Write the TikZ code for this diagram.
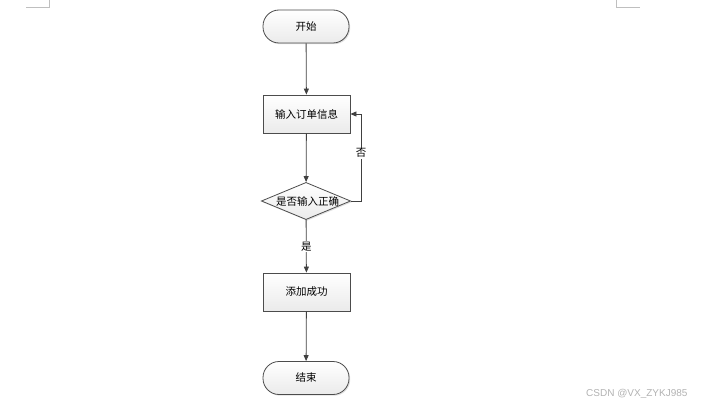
\documentclass[tikz,border=0pt]{standalone}
\usepackage{fontspec}
\setmainfont{Noto Sans CJK SC}
\newfontfamily\wmfont{Liberation Sans}
\usetikzlibrary{shapes.geometric,arrows.meta,shadows}
\begin{document}
\begin{tikzpicture}[x=1pt,y=-1pt,
  base/.style={draw=black!70,line width=0.8pt,top color=white,bottom color=black!8,
    drop shadow={shadow xshift=1.2pt,shadow yshift=-1.2pt,fill=black!25},
    font=\fontsize{10.5pt}{12pt}\selectfont,inner sep=0pt},
  term/.style={base,rounded corners=16pt,minimum width=86pt,minimum height=33pt},
  proc/.style={base,minimum width=87pt,minimum height=38pt},
  dec/.style={base,diamond,aspect=2.4,minimum width=86pt,minimum height=36pt,inner sep=0pt},
  conn/.style={draw=black!75,line width=0.8pt,-{Triangle[length=6pt,width=5pt]}},
  lbl/.style={font=\fontsize{10.5pt}{12pt}\selectfont,fill=white,inner sep=1pt}]
\useasboundingbox (0,0) rectangle (707,409);
\draw[black!25,line width=0.8pt] (26,7) -- (49,7) -- (49,0);
\draw[black!25,line width=0.8pt] (640,7) -- (616,7) -- (616,0);
\node[term] (start) at (306,26.5) {开始};
\node[proc] (input) at (306.5,114) {输入订单信息};
\node[dec] (check) at (306,201) {\hspace{3pt}是否输入正确};
\node[proc] (add) at (306.5,292) {添加成功};
\node[term] (end) at (306,378) {结束};
\coordinate (loopA) at (361,201);
\coordinate (loopB) at (361,114);
\draw[conn] (start) -- (input);
\draw[conn] (input) -- (check);
\draw[conn] (check) -- node[lbl,pos=0.5] (yes) {是} (add);
\draw[conn] (add) -- (end);
\draw[conn] (check.east) -- (loopA) -- node[lbl,pos=0.55] (no) {否} (loopB) -- (input.east);
\node[font=\wmfont\fontsize{10pt}{11pt}\selectfont,text=black!30,anchor=east] (wm) at (691,394) {CSDN @VX\_ZYKJ985};
\end{tikzpicture}
\end{document}
